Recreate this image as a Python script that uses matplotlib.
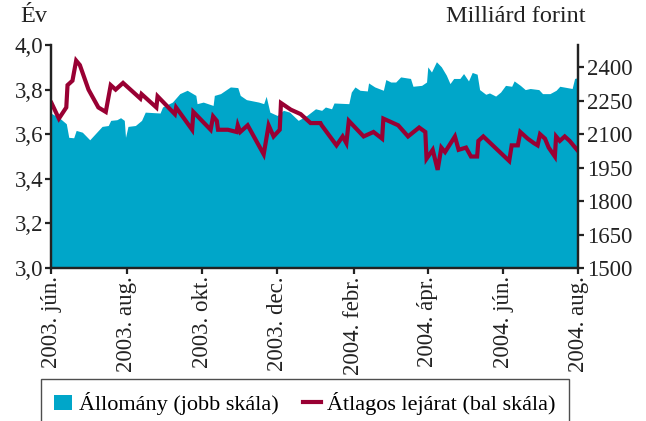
import numpy as np
import pandas as pd
import matplotlib
matplotlib.use("Agg")
from matplotlib import pyplot as plt
import matplotlib.dates as mdates
from matplotlib.ticker import FuncFormatter, FixedLocator

# Állomány (right scale, billion HUF)
stock_dates = [
    "2003-06-01", "2003-06-07", "2003-06-13", "2003-06-15", "2003-06-19", "2003-06-21",
    "2003-06-26", "2003-07-02", "2003-07-09", "2003-07-12", "2003-07-17", "2003-07-19",
    "2003-07-24", "2003-07-27", "2003-07-30", "2003-07-31", "2003-08-02", "2003-08-08",
    "2003-08-13", "2003-08-16", "2003-08-28", "2003-08-30", "2003-09-07", "2003-09-13",
    "2003-09-19", "2003-09-26", "2003-09-27", "2003-10-02", "2003-10-10", "2003-10-11",
    "2003-10-16", "2003-10-24", "2003-10-30", "2003-11-01", "2003-11-06", "2003-11-16",
    "2003-11-20", "2003-11-22", "2003-11-25", "2003-12-01", "2003-12-06", "2003-12-11",
    "2003-12-18", "2003-12-25", "2004-01-01", "2004-01-06", "2004-01-09", "2004-01-14",
    "2004-01-16", "2004-01-28", "2004-01-30", "2004-02-02", "2004-02-06", "2004-02-12",
    "2004-02-13", "2004-02-18", "2004-02-25", "2004-02-27", "2004-03-02", "2004-03-06",
    "2004-03-10", "2004-03-18", "2004-03-20", "2004-03-27", "2004-03-31", "2004-04-01",
    "2004-04-04", "2004-04-08", "2004-04-12", "2004-04-16", "2004-04-19", "2004-04-22",
    "2004-04-27", "2004-04-30", "2004-05-04", "2004-05-07", "2004-05-11", "2004-05-13",
    "2004-05-18", "2004-05-21", "2004-05-26", "2004-05-30", "2004-06-03", "2004-06-08",
    "2004-06-10", "2004-06-15", "2004-06-19", "2004-06-23", "2004-06-30", "2004-07-03",
    "2004-07-09", "2004-07-14", "2004-07-17", "2004-07-23", "2004-07-27", "2004-07-29",
    "2004-08-01",
]
stock_values = [
    2193, 2175, 2147, 2086, 2084, 2117,
    2109, 2075, 2117, 2135, 2139, 2162,
    2165, 2174, 2162, 2086, 2135, 2139,
    2162, 2199, 2195, 2222, 2244, 2282,
    2297, 2274, 2237, 2244, 2229, 2274,
    2282, 2312, 2309, 2274, 2255, 2244,
    2237, 2270, 2199, 2184, 2207, 2199,
    2162, 2184, 2214, 2207, 2222, 2214,
    2240, 2237, 2289, 2312, 2297, 2294,
    2330, 2312, 2297, 2345, 2334, 2334,
    2357, 2350, 2315, 2319, 2334, 2402,
    2379, 2425, 2402, 2365, 2327, 2350,
    2350, 2372, 2339, 2377, 2369, 2300,
    2279, 2285, 2271, 2289, 2319, 2315,
    2339, 2319, 2300, 2305, 2300, 2282,
    2282, 2297, 2315, 2309, 2305, 2350,
    2354,
]

# Átlagos lejárat (left scale, years)
mat_dates = [
    "2003-06-01", "2003-06-07", "2003-06-13", "2003-06-14", "2003-06-18", "2003-06-21",
    "2003-06-24", "2003-07-01", "2003-07-09", "2003-07-15", "2003-07-19", "2003-07-23",
    "2003-07-29", "2003-08-12", "2003-08-13", "2003-08-25", "2003-08-26", "2003-09-09",
    "2003-09-10", "2003-09-23", "2003-09-24", "2003-10-08", "2003-10-10", "2003-10-13",
    "2003-10-14", "2003-10-22", "2003-10-29", "2003-10-30", "2003-11-01", "2003-11-07",
    "2003-11-20", "2003-11-24", "2003-11-28", "2003-12-03", "2003-12-04", "2003-12-12",
    "2003-12-20", "2003-12-28", "2004-01-05", "2004-01-06", "2004-01-18", "2004-01-23",
    "2004-01-26", "2004-01-28", "2004-02-09", "2004-02-17", "2004-02-24", "2004-02-25",
    "2004-03-08", "2004-03-16", "2004-03-25", "2004-03-30", "2004-03-31", "2004-04-05",
    "2004-04-09", "2004-04-12", "2004-04-15", "2004-04-23", "2004-04-26", "2004-05-02",
    "2004-05-06", "2004-05-11", "2004-05-12", "2004-05-16", "2004-06-06", "2004-06-08",
    "2004-06-13", "2004-06-15", "2004-06-21", "2004-06-26", "2004-06-29", "2004-07-01",
    "2004-07-05", "2004-07-08", "2004-07-13", "2004-07-14", "2004-07-17", "2004-07-21",
    "2004-07-25", "2004-07-31",
]
mat_values = [
    3.74, 3.67, 3.72, 3.82, 3.84, 3.93,
    3.91, 3.80, 3.72, 3.70, 3.82, 3.80,
    3.83, 3.76, 3.78, 3.72, 3.77, 3.69,
    3.72, 3.62, 3.70, 3.62, 3.68, 3.66,
    3.62, 3.62, 3.61, 3.64, 3.61, 3.64,
    3.51, 3.64, 3.59, 3.62, 3.74, 3.71,
    3.69, 3.65, 3.65, 3.64, 3.55, 3.59,
    3.56, 3.66, 3.59, 3.61, 3.58, 3.67,
    3.64, 3.59, 3.63, 3.61, 3.49, 3.53,
    3.44, 3.54, 3.52, 3.59, 3.53, 3.54,
    3.50, 3.50, 3.57, 3.59, 3.48, 3.55,
    3.55, 3.61, 3.58, 3.56, 3.55, 3.60,
    3.58, 3.54, 3.50, 3.59, 3.57, 3.59,
    3.57, 3.53,
]

tick_dates = ["2003-06-01", "2003-08-01", "2003-10-01", "2003-12-01",
              "2004-02-01", "2004-04-01", "2004-06-01", "2004-08-01"]
tick_labels = ["2003. jún.", "2003. aug.", "2003. okt.", "2003. dec.",
               "2004. febr.", "2004. ápr.", "2004. jún.", "2004. aug."]

left_ticks = [3.0, 3.2, 3.4, 3.6, 3.8, 4.0]
right_ticks = [1500, 1650, 1800, 1950, 2100, 2250, 2400]

area_color = "#00a6c9"
line_color = "#990033"

plt.rcParams["font.family"] = ["Liberation Serif", "DejaVu Serif"]
plt.rcParams["font.size"] = 16.5

fig = plt.figure(figsize=(6.46, 4.21), dpi=100)
ax = fig.add_axes([0.0797, 0.3634, 0.8155, 0.5297])
ax2 = ax.twinx()

sd = pd.to_datetime(stock_dates)
md = pd.to_datetime(mat_dates)

# area on the right axis, drawn below the line
ax2.fill_between(sd, 1500, stock_values, color=area_color, lw=0, label="Állomány (jobb skála)")
ax2.set_ylim(1500, 2500)
ax.set_zorder(ax2.get_zorder() + 1)
ax.patch.set_visible(False)

ax.plot(md, mat_values, color=line_color, lw=3, solid_joinstyle="miter",
        label="Átlagos lejárat (bal skála)")
ax.set_ylim(3.0, 4.0)
ax.set_xlim(pd.Timestamp("2003-06-01"), pd.Timestamp("2004-08-01"))

ax.yaxis.set_major_locator(FixedLocator(left_ticks))
ax.yaxis.set_major_formatter(FuncFormatter(lambda v, p: f"{v:.1f}".replace(".", ",")))
ax2.yaxis.set_major_locator(FixedLocator(right_ticks))

xt = mdates.date2num(pd.to_datetime(tick_dates))
ax.set_xticks(xt)
ax.set_xticklabels(tick_labels, rotation=90)

for a in (ax, ax2):
    a.spines["top"].set_visible(False)
    for s in ("left", "right", "bottom"):
        a.spines[s].set_linewidth(1.6)
        a.spines[s].set_color("#222222")
    a.tick_params(length=4, width=1.6, color="#222222", pad=2, labelcolor="#222222")

fig.text(0.031, 0.985, "Év", ha="left", va="top", color="#222222", fontsize=17.5)
fig.text(0.907, 0.985, "Milliárd forint", ha="right", va="top", color="#222222", fontsize=17.5)

h1, l1 = ax2.get_legend_handles_labels()
h2, l2 = ax.get_legend_handles_labels()
leg = fig.legend(h1 + h2, l1 + l2, loc="upper left", bbox_to_anchor=(0.0635, 0.1),
                 ncol=2, frameon=True, fancybox=False, edgecolor="#222222",
                 fontsize=16, handlelength=0.8, handleheight=0.7, handletextpad=0.3,
                 columnspacing=1.1, borderpad=0.6, borderaxespad=0)
leg.get_frame().set_linewidth(1.0)

fig.savefig("out.png", dpi=100)
